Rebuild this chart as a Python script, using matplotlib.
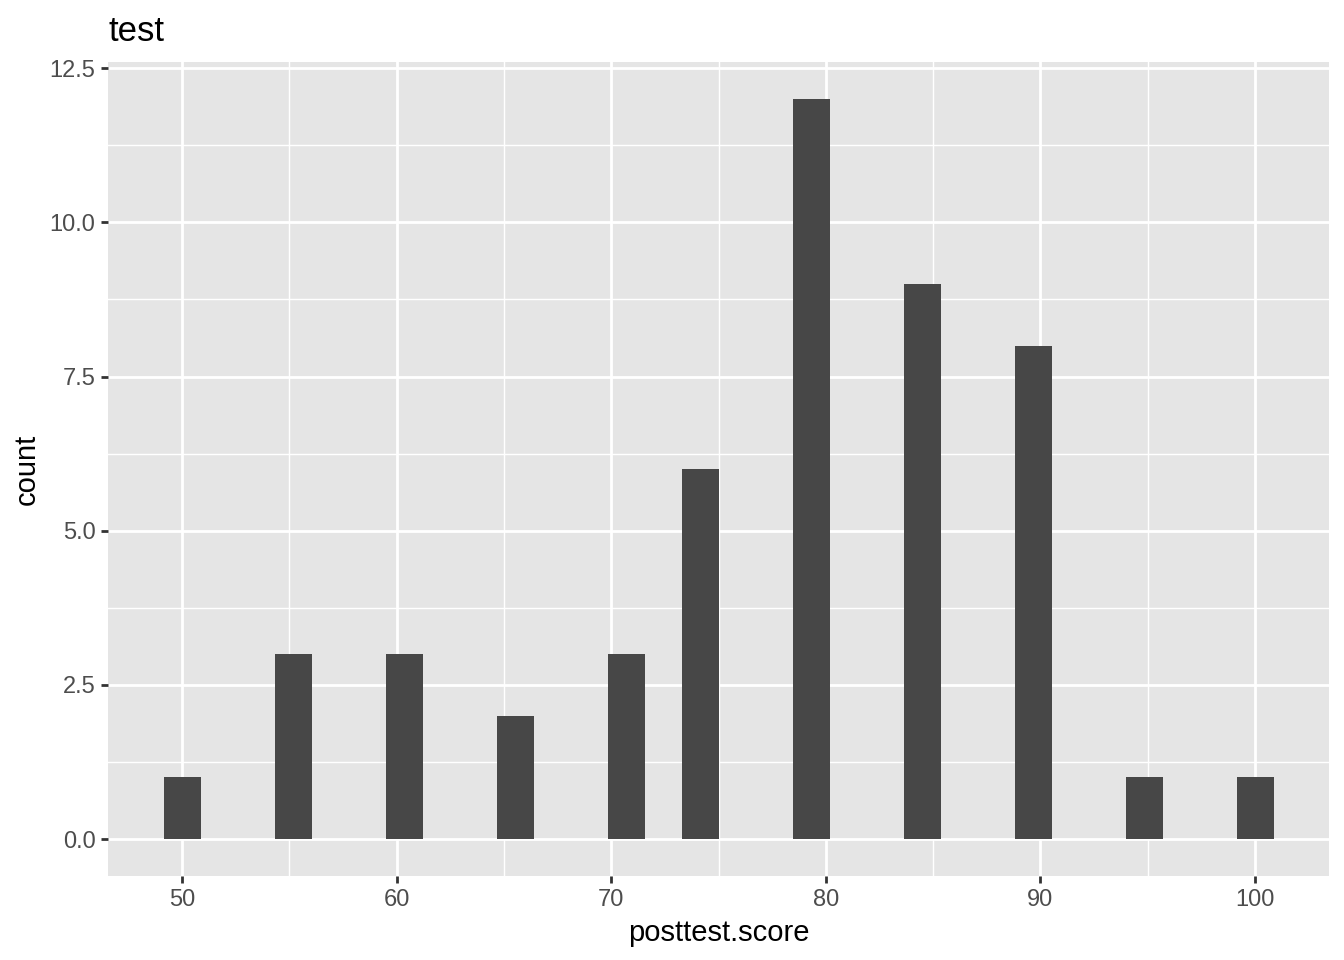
import numpy as np
import matplotlib.pyplot as plt

plt.rcParams['font.family'] = ['Liberation Sans', 'DejaVu Sans']

# posttest scores and how many students got each
scores = [50, 55, 60, 65, 70, 75, 80, 85, 90, 95, 100]
counts = [1, 3, 3, 2, 3, 6, 12, 9, 8, 1, 1]
n_bins = 30

# ggplot-style binning: 30 bins, centres on the data range, right-closed
lo, hi = min(scores), max(scores)
width = (hi - lo) / (n_bins - 1)
left_edge = lo - width / 2
centers = lo + width * np.arange(n_bins)
heights = np.zeros(n_bins)
for s, c in zip(scores, counts):
    k = int(np.ceil((s - left_edge) / width - 1e-9)) - 1
    heights[k] += c

W, H = 1344, 960
fig = plt.figure(figsize=(W / 100, H / 100), dpi=100)
ax = fig.add_axes([108 / W, 1 - 876 / H, (1329 - 108) / W, (876 - 62) / H])
ax.set_facecolor('#E5E5E5')

ax.bar(centers, heights, width=width, color='#474747', zorder=3)

xr = (lo - width / 2, hi + width / 2)
xpad = (xr[1] - xr[0]) * 0.05
ax.set_xlim(xr[0] - xpad, xr[1] + xpad)
ymax = heights.max()
ax.set_ylim(-ymax * 0.05, ymax * 1.05)

ax.set_xticks([50, 60, 70, 80, 90, 100])
ax.set_xticks([55, 65, 75, 85, 95], minor=True)
ax.set_yticks([0, 2.5, 5, 7.5, 10, 12.5])
ax.set_yticklabels(['0.0', '2.5', '5.0', '7.5', '10.0', '12.5'])
ax.set_yticks([1.25, 3.75, 6.25, 8.75, 11.25], minor=True)

ax.grid(which='major', color='white', linewidth=2.0, zorder=1)
ax.grid(which='minor', color='white', linewidth=1.0, zorder=1)
ax.set_axisbelow(True)
for sp in ax.spines.values():
    sp.set_visible(False)

ax.tick_params(which='major', length=5, width=2, color='#333333',
               labelcolor='#4D4D4D', labelsize=17, pad=4)
ax.tick_params(which='minor', length=0)

ax.set_xlabel('posttest.score', fontsize=21, color='black', labelpad=6)
ax.set_ylabel('count', fontsize=21, color='black', labelpad=6.5)
ax.set_title('test', fontsize=25, loc='left', pad=15, color='black')

fig.savefig('out.png', dpi=100)
